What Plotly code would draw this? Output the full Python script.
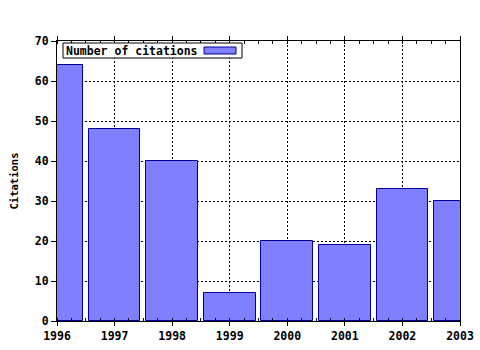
import plotly.graph_objects as go

years = [1996, 1997, 1998, 1999, 2000, 2001, 2002, 2003]
citations = [64, 48, 40, 7, 20, 19, 33, 30]
series_name = "Number of citations"
y_title = "Citations"

FONT = "DejaVu Sans Mono"
fill = "#8080ff"
edge = "#000099"

fig = go.Figure()
fig.add_trace(go.Bar(
    x=years, y=citations, name=series_name, width=0.9,
    marker=dict(color=fill, line=dict(color=edge, width=1)),
    showlegend=False,
))

axis_font = dict(family=FONT, size=11.5, color="black", weight="bold")

fig.update_layout(
    width=480, height=350,
    margin=dict(l=57, r=20, t=41, b=29),
    paper_bgcolor="white", plot_bgcolor="white",
    bargap=0,
    xaxis=dict(
        range=[1996, 2003], tickmode="linear", tick0=1996, dtick=1,
        ticks="outside", ticklen=4, tickcolor="black", tickwidth=1,
        showline=True, linecolor="black", linewidth=1, mirror="allticks",
        showgrid=True, gridcolor="black", griddash="2px,2px", gridwidth=1,
        tickfont=axis_font, zeroline=False, automargin=False,
        minor=dict(dtick=0.25, tick0=1996, ticks="inside", ticklen=3,
                   tickcolor="black", showgrid=False),
    ),
    yaxis=dict(
        range=[0, 70], tickmode="linear", tick0=0, dtick=10,
        ticks="outside", ticklen=5, tickcolor="black", tickwidth=1,
        showline=True, linecolor="black", linewidth=1, mirror=True,
        showgrid=True, gridcolor="black", griddash="2px,2px", gridwidth=1,
        tickfont=axis_font, zeroline=False, automargin=False,
        title=dict(text=y_title, font=dict(family=FONT, size=10.5, color="black", weight="bold"),
                   standoff=14),
    ),
)

# legend box (drawn as annotation + swatch, text left of swatch like the original)
fig.add_shape(type="rect", xref="paper", yref="paper",
              x0=(63 - 57) / 403, x1=(242 - 57) / 403,
              y0=1 - (58 - 41) / 280, y1=1 - (43 - 41) / 280,
              line=dict(color="black", width=1), fillcolor="white", layer="above")
fig.add_shape(type="rect", xref="paper", yref="paper",
              x0=(204 - 57) / 403, x1=(236 - 57) / 403,
              y0=1 - (54 - 41) / 280, y1=1 - (47 - 41) / 280,
              line=dict(color=edge, width=1), fillcolor=fill, layer="above")
fig.add_annotation(text=series_name, xref="paper", yref="paper",
                   x=(64 - 57) / 403, y=1 - (50.5 - 41) / 280,
                   xanchor="left", yanchor="middle", showarrow=False,
                   font=dict(family=FONT, size=11.5, color="black", weight="bold"))

fig.write_html("out.html")
